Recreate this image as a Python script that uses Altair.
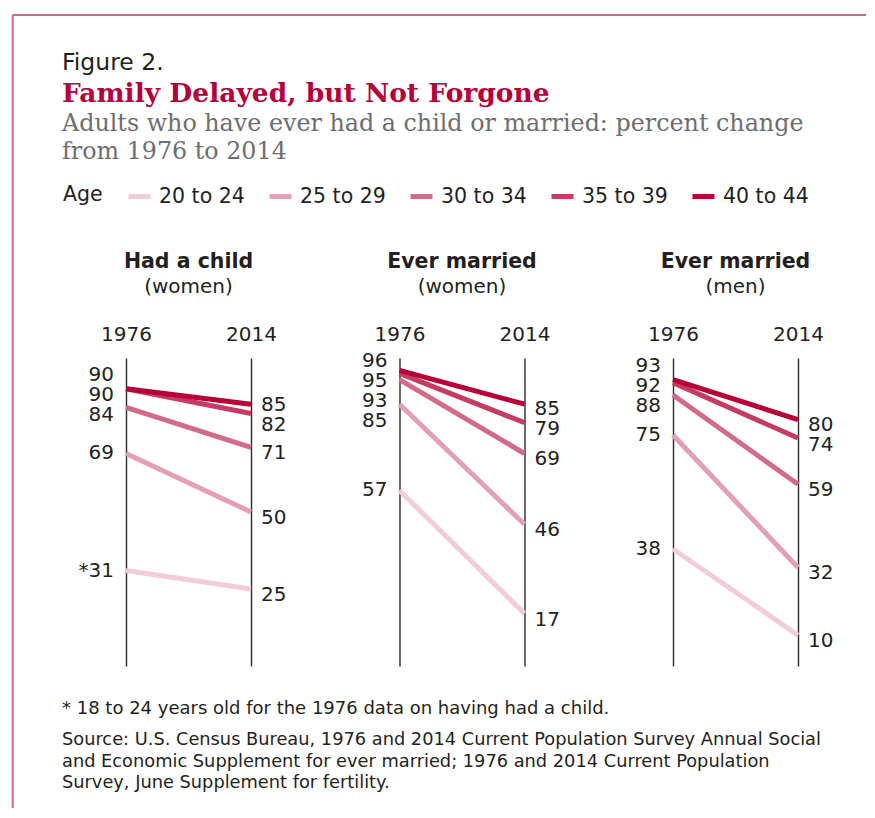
import altair as alt
import pandas as pd

# ---------------- data ----------------
years = ["1976", "2014"]
ages = ["20 to 24", "25 to 29", "30 to 34", "35 to 39", "40 to 44"]
age_colors = ["#f2cdd8", "#e3a0b4", "#d26a89", "#c43c62", "#b70038"]

panel_titles = ["Had a child", "Ever married", "Ever married"]
panel_groups = ["(women)", "(women)", "(men)"]

had_child_women_1976 = [31, 69, 84, 90, 90]
had_child_women_2014 = [25, 50, 71, 82, 85]
married_women_1976 = [57, 85, 93, 95, 96]
married_women_2014 = [17, 46, 69, 79, 85]
married_men_1976 = [38, 75, 88, 92, 93]
married_men_2014 = [10, 32, 59, 74, 80]

# 1976 "had a child" figure for the youngest group refers to 18 to 24
footnote_marker = (0, "1976", "20 to 24")

fig_label = "Figure 2."
title_text = "Family Delayed, but Not Forgone"
subtitle_text = "Adults who have ever had a child or married: percent change\nfrom 1976 to 2014"
footnote_text = "* 18 to 24 years old for the 1976 data on having had a child."
source_text = ("Source: U.S. Census Bureau, 1976 and 2014 Current Population Survey Annual Social\n"
               "and Economic Supplement for ever married; 1976 and 2014 Current Population\n"
               "Survey, June Supplement for fertility.")

# ---------------- styling ----------------
SANS = "DejaVu Sans"
SERIF = "DejaVu Serif"
INK = "#231f20"
RED = "#b5003a"
GRAY = "#6d6e70"
BORDER = "#cc6a84"
GAP = 6.5
PANEL_W = 205
PANEL_H = 308


def dodge(values, gap=GAP, top=99.0):
    """Spread labels so that they do not overlap (cluster centring)."""
    order = sorted(range(len(values)), key=lambda i: -values[i])

    def place(cl):
        m = sum(values[j] for j in cl) / len(cl)
        hi = m + gap * (len(cl) - 1) / 2
        if len(cl) > 1:
            hi = min(hi, top)
        return {j: hi - k * gap for k, j in enumerate(cl)}

    clusters = []
    for i in order:
        clusters.append([i])
        while len(clusters) > 1:
            pa, pb = place(clusters[-2]), place(clusters[-1])
            if min(pa.values()) - max(pb.values()) < gap:
                clusters[-2] = clusters[-2] + clusters[-1]
                clusters.pop()
            else:
                break
    pos = {}
    for cl in clusters:
        pos.update(place(cl))
    return [pos[i] for i in range(len(values))]


yscale = alt.Scale(domain=[0, 100], nice=False, zero=False)
xscale = alt.Scale(type="point", domain=years, padding=0.32)
xaxis = alt.Axis(orient="top", title=None, domain=False, ticks=False, labelAngle=0,
                 labelFont=SANS, labelFontSize=20, labelColor=INK, labelPadding=14,
                 grid=True, gridColor="#2b2b2b", gridWidth=1.4, gridOpacity=1)
legend = alt.Legend(orient="none", legendX=-23, legendY=-175, direction="horizontal",
                    title="Age", titleOrient="left", titleFont=SANS, titleFontSize=20.5,
                    titleFontWeight="normal", titleColor=INK, titlePadding=23,
                    labelFont=SANS, labelFontSize=20.5, labelColor=INK, labelOffset=6,
                    symbolType="stroke", symbolSize=484, symbolStrokeWidth=5,
                    columnPadding=14)


def text_layer(txt, x, y, align="left", **kw):
    return alt.Chart(pd.DataFrame({"t": [txt]})).mark_text(
        align=align, baseline="alphabetic", lineBreak="\n", **kw
    ).encode(text="t:N", x=alt.value(x), y=alt.value(y))


def make_panel(k, v76, v14, extra=None):
    df = pd.DataFrame({"age": ages + ages,
                       "year": [years[0]] * len(ages) + [years[1]] * len(ages),
                       "value": v76 + v14})
    lines = alt.Chart(df).mark_line(strokeWidth=5, strokeCap="butt").encode(
        x=alt.X("year:O", scale=xscale, axis=xaxis),
        y=alt.Y("value:Q", scale=yscale, axis=None),
        color=alt.Color("age:N", scale=alt.Scale(domain=ages, range=age_colors), legend=legend),
    )
    rows = []
    for yr, vals in ((years[0], v76), (years[1], v14)):
        for a, v, p in zip(ages, vals, dodge(vals)):
            star = "*" if (k, yr, a) == footnote_marker else ""
            rows.append({"year": yr, "text": star + str(v), "pos": p})
    lab = pd.DataFrame(rows)
    left = alt.Chart(lab[lab.year == years[0]]).mark_text(
        align="right", baseline="middle", dx=-12, dy=0, font=SANS, fontSize=20, color=INK
    ).encode(x=alt.X("year:O", scale=xscale, axis=xaxis),
             y=alt.Y("pos:Q", scale=yscale, axis=None), text="text:N")
    right = alt.Chart(lab[lab.year == years[1]]).mark_text(
        align="left", baseline="middle", dx=10, dy=6, font=SANS, fontSize=20, color=INK
    ).encode(x=alt.X("year:O", scale=xscale, axis=xaxis),
             y=alt.Y("pos:Q", scale=yscale, axis=None), text="text:N")
    heads = [
        text_layer(panel_titles[k], PANEL_W / 2, -89.7, align="center", font=SANS,
                   fontSize=20.5, fontWeight="bold", color=INK),
        text_layer(panel_groups[k], PANEL_W / 2, -64.7, align="center", font=SANS,
                   fontSize=20, color=INK),
    ]
    layers = [lines, left, right] + heads + (extra or [])
    return alt.layer(*layers).properties(width=PANEL_W, height=PANEL_H)


# ---------------- header / footer / frame (panel-1 relative) ----------------
one = pd.DataFrame({"k": [0]})
deco = [
    alt.Chart(one).mark_rule(color=BORDER, strokeWidth=2).encode(
        x=alt.value(-73.3), x2=alt.value(780), y=alt.value(-343)),
    alt.Chart(one).mark_rule(color=BORDER, strokeWidth=2).encode(
        x=alt.value(-73.3), y=alt.value(-343), y2=alt.value(450)),
    text_layer(fig_label, -24, -288.5, font=SANS, fontSize=23.5, color=INK),
    text_layer(title_text, -24, -256.3, font=SERIF, fontSize=26.5, fontWeight="bold", color=RED),
    text_layer(subtitle_text, -24, -227, font=SERIF, fontSize=23.8, color=GRAY, lineHeight=28),
    text_layer(footnote_text, -24, 356.3, font=SANS, fontSize=18, color=INK),
    text_layer(source_text, -24, 387, font=SANS, fontSize=17.8, color=INK, lineHeight=21.6),
]

p1 = make_panel(0, had_child_women_1976, had_child_women_2014, deco)
p2 = make_panel(1, married_women_1976, married_women_2014)
p3 = make_panel(2, married_men_1976, married_men_2014)

chart = alt.hconcat(p1, p2, p3, spacing=68.5, bounds="flush").properties(
    padding={"left": 3, "top": 6, "right": 0, "bottom": 0}
).configure_view(stroke=None)

chart.save("out.html", embed_options={"renderer": "svg", "actions": False})
